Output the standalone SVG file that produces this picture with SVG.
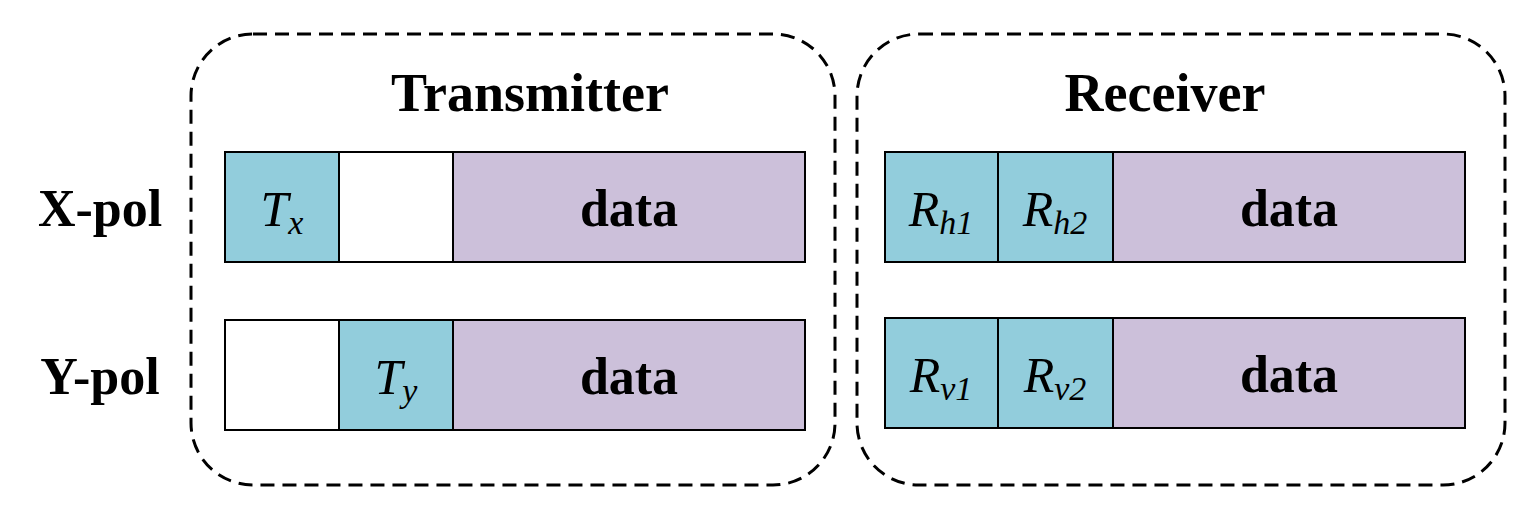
<svg xmlns="http://www.w3.org/2000/svg" width="1530" height="506" viewBox="0 0 1530 506">
<style>
text{font-family:"Liberation Serif","Times New Roman",serif;fill:#000}
.b{font-weight:bold;font-size:52px;text-anchor:middle}
.t{font-weight:bold;font-size:54px;text-anchor:middle}
.i{font-style:italic;font-size:50px;text-anchor:middle}
.s{font-size:34px}
.teal{fill:#92CDDC;stroke:#000;stroke-width:2}
.pur{fill:#CCC0DA;stroke:#000;stroke-width:2}
.wh{fill:#fff;stroke:#000;stroke-width:2}
.grp{fill:none;stroke:#000;stroke-width:3;stroke-dasharray:14 8}
</style>
<rect width="1530" height="506" fill="#fff"/>
<g id="transmitter">
<rect class="grp" x="191" y="34" width="644" height="451" rx="62"/>
<text class="t" x="530" y="111">Transmitter</text>
</g>
<g id="receiver">
<rect class="grp" x="857" y="34" width="648" height="451" rx="62"/>
<text class="t" x="1165" y="111">Receiver</text>
</g>
<g id="labels">
<text class="b" x="100" y="226">X-pol</text>
<text class="b" x="100" y="394">Y-pol</text>
</g>
<g id="tx-x">
<rect class="teal" x="225" y="152" width="114" height="110"/>
<rect class="wh" x="339" y="152" width="114" height="110"/>
<rect class="pur" x="453" y="152" width="352" height="110"/>
<text class="i" x="282" y="226">T<tspan class="s" dy="8">x</tspan></text>
<text class="b" x="629" y="226">data</text>
</g>
<g id="tx-y">
<rect class="wh" x="225" y="320" width="114" height="110"/>
<rect class="teal" x="339" y="320" width="114" height="110"/>
<rect class="pur" x="453" y="320" width="352" height="110"/>
<text class="i" x="396" y="394">T<tspan class="s" dy="8">y</tspan></text>
<text class="b" x="629" y="394">data</text>
</g>
<g id="rx-h">
<rect class="teal" x="885" y="152" width="113" height="110"/>
<rect class="teal" x="998" y="152" width="115" height="110"/>
<rect class="pur" x="1113" y="152" width="352" height="110"/>
<text class="i" x="941" y="226">R<tspan class="s" dy="8">h1</tspan></text>
<text class="i" x="1055" y="226">R<tspan class="s" dy="8">h2</tspan></text>
<text class="b" x="1289" y="226">data</text>
</g>
<g id="rx-v">
<rect class="teal" x="885" y="318" width="113" height="110"/>
<rect class="teal" x="998" y="318" width="115" height="110"/>
<rect class="pur" x="1113" y="318" width="352" height="110"/>
<text class="i" x="941" y="392">R<tspan class="s" dy="8">v1</tspan></text>
<text class="i" x="1055" y="392">R<tspan class="s" dy="8">v2</tspan></text>
<text class="b" x="1289" y="392">data</text>
</g>
<g id="connectors"></g>
</svg>
